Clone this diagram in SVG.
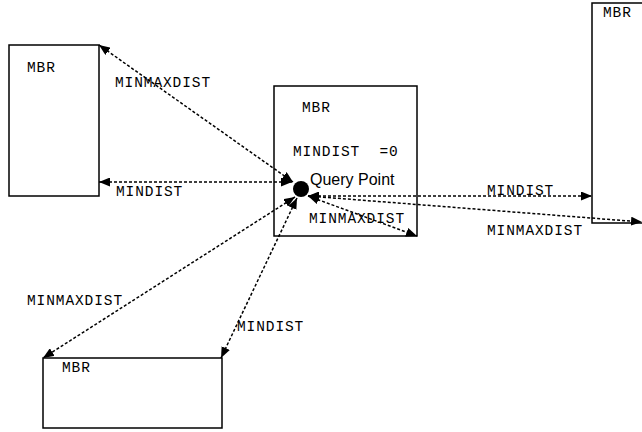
<svg xmlns="http://www.w3.org/2000/svg" width="642" height="432" viewBox="0 0 642 432">
<style>
.box{fill:#fff;stroke:#000;stroke-width:1.5}
.mono{font-family:"Liberation Mono","Courier New",monospace;font-size:14.5px;letter-spacing:0.9px;fill:#000;white-space:pre}
.sans{font-family:"Liberation Sans",Arial,sans-serif;font-size:16px;fill:#000}
.conn{stroke:#000;stroke-width:1.5;stroke-dasharray:3,2;fill:none;marker-start:url(#ah);marker-end:url(#ah)}
</style>
<defs>
<marker id="ah" markerUnits="userSpaceOnUse" markerWidth="11" markerHeight="9" refX="11" refY="4.5" orient="auto-start-reverse">
<path d="M0,0 L11,4.5 L0,9 z" fill="#000"/>
</marker>
</defs>
<rect width="642" height="432" fill="#fff"/>
<g id="mbr-left">
<rect class="box" x="9" y="45" width="90" height="151"/>
<text class="mono" x="27" y="72">MBR</text>
</g>
<g id="mbr-center">
<rect class="box" x="274" y="86" width="143" height="150"/>
<text class="mono" x="302" y="112">MBR</text>
<text class="mono" x="293" y="156" xml:space="preserve">MINDIST  =0</text>
</g>
<g id="mbr-right">
<rect class="box" x="592" y="3" width="60" height="220"/>
<text class="mono" x="603" y="17">MBR</text>
</g>
<g id="mbr-bottom">
<rect class="box" x="43" y="358" width="179" height="70"/>
<text class="mono" x="62" y="372">MBR</text>
</g>
<g id="query-point">
<circle cx="301" cy="189" r="8" fill="#000"/>
<text class="sans" x="310" y="185">Query Point</text>
</g>
<g id="connectors">
<line class="conn" x1="293" y1="182" x2="99" y2="45"/>
<line class="conn" x1="292" y1="182" x2="99" y2="182"/>
<line class="conn" x1="308" y1="196" x2="592" y2="196"/>
<line class="conn" x1="308" y1="196" x2="642" y2="222"/>
<line class="conn" x1="308" y1="196" x2="417" y2="236"/>
<line class="conn" x1="295" y1="197" x2="43" y2="358"/>
<line class="conn" x1="297" y1="198" x2="221" y2="358"/>
<text class="mono" x="115" y="87">MINMAXDIST</text>
<text class="mono" x="116" y="196">MINDIST</text>
<text class="mono" x="487" y="195">MINDIST</text>
<text class="mono" x="487" y="235">MINMAXDIST</text>
<text class="mono" x="309" y="223">MINMAXDIST</text>
<text class="mono" x="27" y="305">MINMAXDIST</text>
<text class="mono" x="237" y="331">MINDIST</text>
</g>
</svg>
